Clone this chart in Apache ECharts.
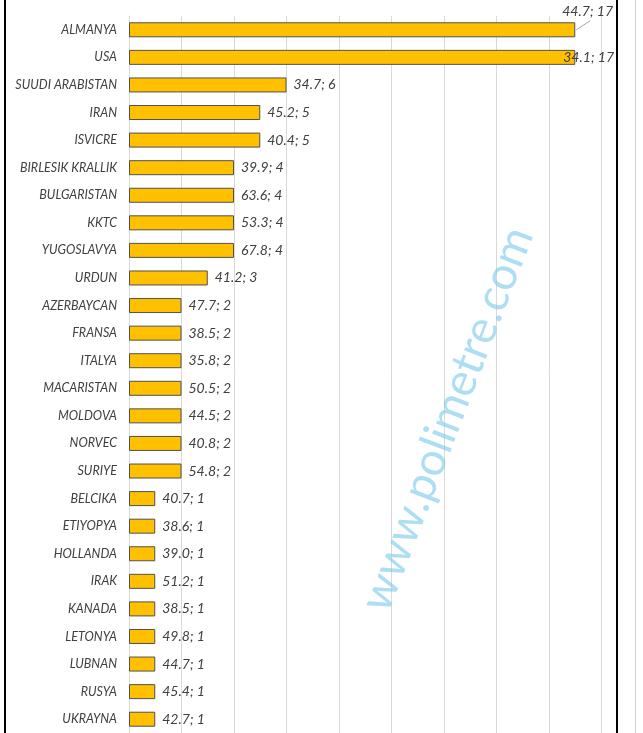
<!DOCTYPE html>
<html>
<head>
<meta charset="utf-8">
<script src="https://cdn.jsdelivr.net/npm/echarts@6/dist/echarts.min.js"></script>
<style>
html,body{margin:0;padding:0;background:#fff;}
#chart{width:643px;height:733px;}
</style>
</head>
<body>
<div id="chart"></div>
<script>
const categories = ["ALMANYA","USA","SUUDI ARABISTAN","IRAN","ISVICRE","BIRLESIK KRALLIK","BULGARISTAN","KKTC","YUGOSLAVYA","URDUN","AZERBAYCAN","FRANSA","ITALYA","MACARISTAN","MOLDOVA","NORVEC","SURIYE","BELCIKA","ETIYOPYA","HOLLANDA","IRAK","KANADA","LETONYA","LUBNAN","RUSYA","UKRAYNA"];
const counts = [17,17,6,5,5,4,4,4,4,3,2,2,2,2,2,2,2,1,1,1,1,1,1,1,1,1];
const percents = ["44.7","34.1","34.7","45.2","40.4","39.9","63.6","53.3","67.8","41.2","47.7","38.5","35.8","50.5","44.5","40.8","54.8","40.7","38.6","39.0","51.2","38.5","49.8","44.7","45.4","42.7"];
const watermark = "www.polimetre.com";

const FONT = "Lato,'Open Sans',sans-serif";
const chart = echarts.init(document.getElementById('chart'), null, {renderer:'canvas'});
chart.setOption({
  animation:false,
  backgroundColor:'#fff',
  grid:{left:129, right:41.5, top:16, height:718, containLabel:false},
  xAxis:{type:'value', min:0, max:18, interval:2,
    axisLabel:{show:false}, axisLine:{show:false}, axisTick:{show:false},
    splitLine:{lineStyle:{color:'#d9d9d9', width:1}}},
  yAxis:{type:'category', data:categories, inverse:true,
    axisLine:{show:true, lineStyle:{color:'#d9d9d9'}}, axisTick:{show:false},
    axisLabel:{margin:12, color:'#404040', fontStyle:'italic', fontFamily:FONT, fontSize:12.5}},
  series:[{
    type:'bar', data:counts, barWidth:15,
    itemStyle:{color:'#FFC000', borderColor:'#505050', borderWidth:1},
    label:{show:true, position:'right', distance:7, color:'#404040', fontStyle:'italic', fontFamily:FONT, fontSize:14,
      formatter:p=>percents[p.dataIndex]+'; '+counts[p.dataIndex]},
    labelLayout:function(p){
      if(p.dataIndex===0) return {dx:-20, dy:-18};
      if(p.dataIndex===1) return {dx:-19, dy:0};
      return {};
    }
  }]
});
// leader line for the first label, anchored at the bar end via the axis scale
const p0 = chart.convertToPixel({seriesIndex:0}, [counts[0], 0]);
chart.setOption({graphic:[
  {type:'text', x:447, y:419, rotation:69*Math.PI/180,
    style:{text:watermark, font:"46px Lato,'Open Sans',sans-serif", fill:'rgba(120,200,235,0.6)', textAlign:'center', textVerticalAlign:'middle'}, z:100, silent:true},
  {type:'rect', shape:{x:4, y:0, width:2, height:733}, style:{fill:'#000'}},
  {type:'rect', shape:{x:616, y:0, width:2, height:733}, style:{fill:'#000'}},
  {type:'rect', shape:{x:635, y:0, width:1, height:733}, style:{fill:'#d0d0d0'}},
  {type:'line', shape:{x1:p0[0]+1, y1:p0[1], x2:p0[0]+15, y2:p0[1]-9}, style:{stroke:'#a6a6a6', lineWidth:1}, z:50}
]});
</script>
</body>
</html>
